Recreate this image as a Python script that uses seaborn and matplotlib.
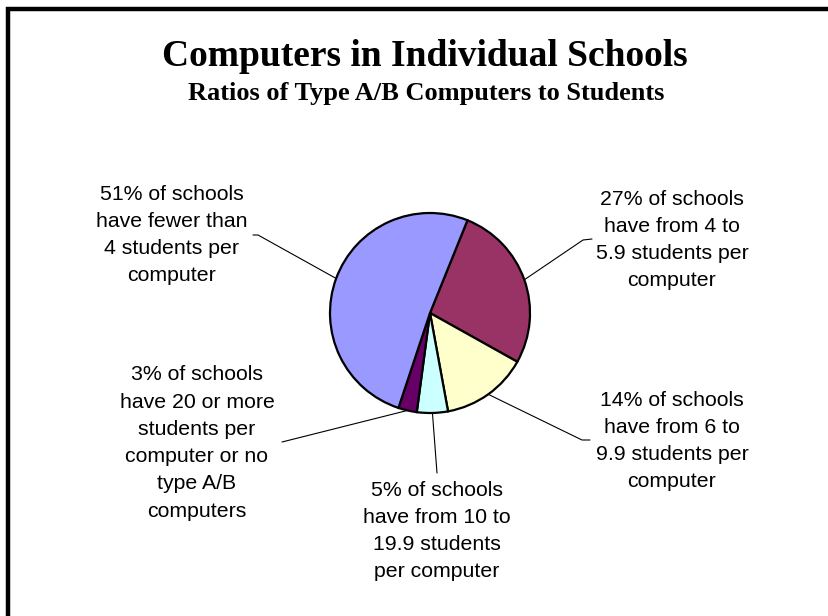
import numpy as np
import matplotlib
matplotlib.use("Agg")
import matplotlib.pyplot as plt
from matplotlib.patches import Rectangle
import seaborn as sns

sns.set_theme(style="white")
plt.rcParams['font.family'] = ['Liberation Sans', 'DejaVu Sans']
plt.rcParams['text.color'] = 'black'

# ---- data (clockwise order starting at top-right) ----
shares = [27, 14, 5, 3, 51]
labels = [
    "27% of schools\nhave from 4 to\n5.9 students per\ncomputer",
    "14% of schools\nhave from 6 to\n9.9 students per\ncomputer",
    "5% of schools\nhave from 10 to\n19.9 students\nper computer",
    "3% of schools\nhave 20 or more\nstudents per\ncomputer or no\ntype A/B\ncomputers",
    "51% of schools\nhave fewer than\n4 students per\ncomputer",
]
colors = ["#993366", "#FFFFCC", "#CCFFFF", "#660066", "#9999FF"]
title = "Computers in Individual Schools"
subtitle = "Ratios of Type A/B Computers to Students"

# ---- layout (pixel coords, y measured from top) ----
W, H = 829, 616
cx, cy, R = 430, 313, 100
label_pos = [(672, 240), (672, 441), (437, 531), (197, 443), (172, 235)]
leader_end = [(583, 240), (582, 440), (437, 473), (282, 442), (258, 235)]
leader_tick = [(592, 239), (590, 440), None, None, (253, 235)]

fig = plt.figure(figsize=(W / 100, H / 100), dpi=100)
ax = fig.add_axes([0, 0, 1, 1])
ax.set_xlim(0, W)
ax.set_ylim(0, H)
ax.set_axis_off()

def Y(y):
    return H - y

wedges, _ = ax.pie(shares, colors=colors, startangle=68, counterclock=False,
                   center=(cx, Y(cy)), radius=R,
                   wedgeprops=dict(edgecolor="black", linewidth=1.6))
ax.set_xlim(0, W)
ax.set_ylim(0, H)
ax.set_aspect('equal')

for w, lab, (lx, ly), (ex, ey), tick in zip(wedges, labels, label_pos, leader_end, leader_tick):
    mid = np.deg2rad((w.theta1 + w.theta2) / 2)
    px, py = cx + R * np.cos(mid), Y(cy) + R * np.sin(mid)
    xs, ys = [px, ex], [py, Y(ey)]
    if tick is not None:
        xs.append(tick[0]); ys.append(Y(tick[1]))
    ax.plot(xs, ys, color="black", linewidth=0.8, zorder=0)
    ax.text(lx, Y(ly), lab, ha="center", va="center", multialignment="center",
            fontsize=15.3, linespacing=1.55, color="black")

ax.text(425, Y(66), title, ha="center", va="baseline", fontsize=27,
        fontweight="bold", color="black", family=["Liberation Serif", "DejaVu Serif"])
ax.text(426, Y(100), subtitle, ha="center", va="baseline", fontsize=19,
        fontweight="bold", color="black", family=["Liberation Serif", "DejaVu Serif"])

ax.add_patch(Rectangle((8, -50), W + 100, Y(9) + 50, fill=False,
                       edgecolor="black", linewidth=3.2, clip_on=False))

fig.savefig("out.png", dpi=100)
